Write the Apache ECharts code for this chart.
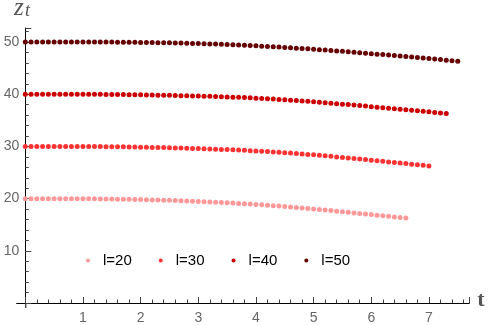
<!DOCTYPE html>
<html><head><meta charset="utf-8">
<script src="https://cdn.jsdelivr.net/npm/echarts@6/dist/echarts.min.js"></script>
<style>html,body{margin:0;padding:0;background:#fff}#c{width:490px;height:325px}</style>
</head><body><div id="c"></div>
<script>
const tValues = [0,0.1,0.2,0.3,0.4,0.5,0.6,0.7,0.8,0.9,1,1.1,1.2,1.3,1.4,1.5,1.6,1.7,1.8,1.9,2,2.1,2.2,2.3,2.4,2.5,2.6,2.7,2.8,2.9,3,3.1,3.2,3.3,3.4,3.5,3.6,3.7,3.8,3.9,4,4.1,4.2,4.3,4.4,4.5,4.6,4.7,4.8,4.9,5,5.1,5.2,5.3,5.4,5.5,5.6,5.7,5.8,5.9,6,6.1,6.2,6.3,6.4,6.5,6.6,6.7,6.8,6.9,7,7.1,7.2,7.3,7.4,7.5];
const seriesNames = ['l=20','l=30','l=40','l=50'];
const z20 = [20,20,20,20,20,20,20,20,20,19.99,19.98,19.97,19.96,19.95,19.93,19.92,19.9,19.88,19.86,19.84,19.82,19.79,19.76,19.73,19.7,19.67,19.63,19.59,19.55,19.51,19.47,19.42,19.37,19.32,19.27,19.21,19.15,19.09,19.03,18.96,18.89,18.82,18.74,18.66,18.58,18.49,18.4,18.31,18.22,18.12,18.02,17.92,17.82,17.71,17.6,17.49,17.38,17.27,17.16,17.05,16.94,16.83,16.72,16.61,16.5,16.39,16.28];
const z30 = [30,30,30,30,30,30,30,30,30,30,30,29.99,29.98,29.97,29.96,29.95,29.93,29.92,29.9,29.88,29.86,29.84,29.82,29.8,29.78,29.75,29.72,29.69,29.66,29.63,29.6,29.56,29.52,29.48,29.44,29.4,29.35,29.3,29.25,29.2,29.14,29.08,29.02,28.95,28.88,28.81,28.73,28.65,28.57,28.48,28.39,28.3,28.2,28.1,28.0,27.9,27.8,27.7,27.59,27.48,27.37,27.26,27.15,27.04,26.93,26.82,26.71,26.6,26.49,26.38,26.27];
const z40 = [40,40,40,40,40,40,40,40,40,40,40,40,40,39.99,39.98,39.97,39.96,39.94,39.93,39.91,39.89,39.87,39.85,39.83,39.81,39.79,39.77,39.74,39.72,39.69,39.66,39.63,39.6,39.57,39.53,39.49,39.45,39.41,39.36,39.31,39.26,39.2,39.14,39.08,39.01,38.94,38.87,38.8,38.72,38.64,38.56,38.47,38.38,38.29,38.2,38.11,38.02,37.93,37.83,37.73,37.63,37.53,37.43,37.33,37.23,37.13,37.03,36.93,36.83,36.73,36.63,36.53,36.43,36.33];
const z50 = [50,50,50,50,50,50,50,50,50,50,50,50,50,50,50,50,49.98,49.97,49.96,49.95,49.94,49.92,49.91,49.89,49.87,49.85,49.83,49.81,49.78,49.75,49.72,49.69,49.65,49.61,49.57,49.53,49.48,49.43,49.38,49.33,49.28,49.22,49.16,49.1,49.04,48.98,48.91,48.84,48.77,48.7,48.63,48.55,48.47,48.39,48.31,48.23,48.14,48.05,47.96,47.87,47.78,47.69,47.6,47.51,47.42,47.33,47.24,47.14,47.04,46.94,46.84,46.74,46.64,46.54,46.44,46.34];
const xTickLabels = ['1','2','3','4','5','6','7'];
const yTickLabels = ['10','20','30','40','50'];
const colors = ['#ff9999','#ff3333','#cc0000','#660000'];
const zSets = [z20, z30, z40, z50];

const chart = echarts.init(document.getElementById('c'), null, {renderer:'canvas'});
const labelFont = "'Liberation Sans', Arial, sans-serif";
const series = zSets.map((zs, i) => ({
  name: seriesNames[i], type: 'scatter', symbol: 'circle', symbolSize: 5,
  itemStyle: {color: colors[i], opacity: 1}, silent: true, animation: false,
  data: zs.map((z, k) => [tValues[k], z])
}));
chart.setOption({
  animation: false,
  grid: {left: 25.3, right: 20.7, top: 28, bottom: 21.4, containLabel: false},
  legend: {
    left: 81, top: 248, icon: 'circle', itemWidth: 4, itemHeight: 4, itemGap: 27,
    data: seriesNames,
    textStyle: {color: '#000', fontSize: 15, fontFamily: labelFont, padding: [0,0,0,8]}
  },
  xAxis: {
    type: 'value', min: 0, max: 7.7, interval: 1,
    axisLine: {onZero: false, lineStyle: {color: '#000', width: 1}},
    axisTick: {inside: true, length: 6, lineStyle: {color: '#444'}},
    minorTick: {show: true, splitNumber: 5, length: 3.5, lineStyle: {color: '#444'}},
    splitLine: {show: false},
    axisLabel: {color: '#666', fontSize: 14, fontFamily: labelFont, margin: 8,
      formatter: v => (v >= 1 && v <= 7) ? xTickLabels[v - 1] : ''}
  },
  yAxis: {
    type: 'value', min: 0, max: 52.7, interval: 10,
    axisLine: {onZero: false, lineStyle: {color: '#000', width: 1}},
    axisTick: {inside: true, length: 6, lineStyle: {color: '#444'}},
    minorTick: {show: true, splitNumber: 5, length: 3.5, lineStyle: {color: '#444'}},
    splitLine: {show: false},
    axisLabel: {color: '#666', fontSize: 14, fontFamily: labelFont, margin: 6,
      formatter: v => (v >= 10 && v <= 50) ? yTickLabels[v / 10 - 1] : ''}
  },
  series: series
});
const o = chart.convertToPixel({gridIndex: 0}, [0, 0]);
const xe = chart.convertToPixel({gridIndex: 0}, [7.7, 0]);
chart.setOption({graphic: [
  {type: 'line', shape: {x1: o[0] - 9, y1: o[1] + 0.5, x2: o[0], y2: o[1] + 0.5}, style: {stroke: '#000', lineWidth: 1}},
  {type: 'line', shape: {x1: o[0] + 0.5, y1: o[1], x2: o[0] + 0.5, y2: o[1] + 5}, style: {stroke: '#000', lineWidth: 1}},
  {type: 'text', left: xe[0] + 8, top: o[1] - 14, style: {text: 't', fill: '#555', font: "bold 22px 'Liberation Serif', serif"}},
  {type: 'text', left: 14, top: -4, style: {text: 'z', fill: '#555', font: "italic 25px 'Liberation Serif', serif"}},
  {type: 'text', left: 25, top: 2, style: {text: 't', fill: '#555', font: "italic 18px 'Liberation Serif', serif"}}
]});
</script></body></html>
